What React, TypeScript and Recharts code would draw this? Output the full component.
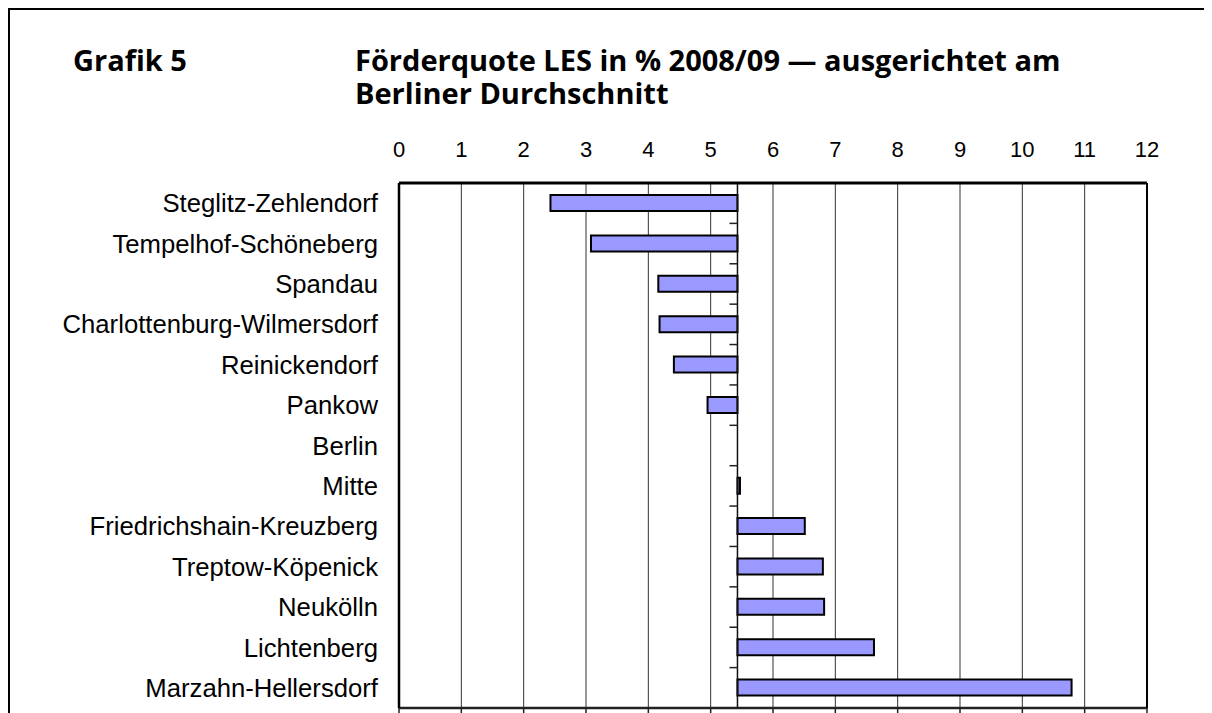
import React from "react";
import { Bar, BarChart, CartesianGrid, ReferenceLine, XAxis, YAxis } from "recharts";

const districts = [
  "Steglitz-Zehlendorf",
  "Tempelhof-Schöneberg",
  "Spandau",
  "Charlottenburg-Wilmersdorf",
  "Reinickendorf",
  "Pankow",
  "Berlin",
  "Mitte",
  "Friedrichshain-Kreuzberg",
  "Treptow-Köpenick",
  "Neukölln",
  "Lichtenberg",
  "Marzahn-Hellersdorf",
];
const quote = [2.43, 3.08, 4.16, 4.18, 4.41, 4.95, 5.43, 5.47, 6.51, 6.8, 6.82, 7.62, 10.79];
const berlinAvg = 5.43;
const xTicks = [0, 1, 2, 3, 4, 5, 6, 7, 8, 9, 10, 11, 12];

const data = districts.map((name, i) => ({
  name,
  range: [Math.min(quote[i], berlinAvg), Math.max(quote[i], berlinAvg)],
}));

const font = "'Liberation Sans', Arial, sans-serif";

// baseline at the Berlin average, with Excel-style ticks between categories
function BaseLine(props: any) {
  const { x1, y1, y2 } = props;
  const n = districts.length;
  const marks = [];
  for (let k = 1; k < n; k++) {
    const y = y1 + ((y2 - y1) * k) / n;
    marks.push(<line key={k} x1={x1 - 8} x2={x1} y1={y} y2={y} stroke="#222" strokeWidth={1.5} />);
  }
  return (
    <g>
      <line x1={x1} x2={x1} y1={y1} y2={y2} stroke="#111" strokeWidth={1.5} />
      {marks}
    </g>
  );
}

// frame from a diagonal segment between first and last band centres:
// bottom line with downward ticks at each gridline, plus right border
function Frame(props: any) {
  const { x1, y1, x2, y2 } = props;
  const n = districts.length;
  const half = (y2 - y1) / (2 * (n - 1));
  const top = y1 - half;
  const bottom = y2 + half;
  const m = xTicks.length - 1;
  return (
    <g>
      <line x1={x1} x2={x2} y1={bottom} y2={bottom} stroke="#222" strokeWidth={2.5} />
      <line x1={x2} x2={x2} y1={top} y2={bottom} stroke="#000" strokeWidth={2} />
      {xTicks.map((t, k) => (
        <line
          key={t}
          x1={x1 + ((x2 - x1) * k) / m}
          x2={x1 + ((x2 - x1) * k) / m}
          y1={bottom}
          y2={bottom + 8}
          stroke="#222"
          strokeWidth={1.5}
        />
      ))}
    </g>
  );
}

const titleStyle: React.CSSProperties = {
  position: "absolute",
  fontFamily: "'Open Sans', sans-serif",
  fontWeight: 700,
  fontSize: 29,
  lineHeight: 1,
  color: "#000",
  whiteSpace: "nowrap",
};

export default function App() {
  return (
    <div
      style={{
        position: "relative",
        width: 1204,
        height: 730,
        borderTop: "2px solid #000",
        borderLeft: "2px solid #000",
        boxSizing: "border-box",
        background: "#fff",
      }}
    >
      <style>{"html{overflow:hidden}"}</style>
      <div style={{ ...titleStyle, left: 63, top: 35 }}>Grafik 5</div>
      <div style={{ ...titleStyle, left: 345, top: 35 }}>Förderquote LES in % 2008/09 — ausgerichtet am</div>
      <div style={{ ...titleStyle, left: 345, top: 68 }}>Berliner Durchschnitt</div>
      <div style={{ position: "absolute", left: -2, top: -2 }}>
        <BarChart
          width={1204}
          height={730}
          data={data}
          layout="vertical"
          margin={{ top: 135, right: 65, bottom: 30, left: 0 }}
          barCategoryGap={0}
        >
          <CartesianGrid horizontal={false} vertical stroke="#333" strokeWidth={1} />
          <XAxis
            orientation="top"
            type="number"
            domain={[0, 12]}
            ticks={xTicks}
            interval={0}
            height={40}
            tickLine={false}
            tickSize={0}
            tickMargin={26}
            axisLine={{ stroke: "#000", strokeWidth: 3 }}
            tick={{ fill: "#000", fontSize: 22, fontFamily: font }}
          />
          <YAxis
            type="category"
            dataKey="name"
            width={391}
            interval={0}
            tickLine={false}
            tickSize={0}
            tickMargin={21}
            axisLine={{ stroke: "#000", strokeWidth: 2.5 }}
            tick={{ fill: "#000", fontSize: 25.7, fontFamily: font }}
          />
          <ReferenceLine
            segment={[
              { x: 0, y: districts[0] },
              { x: 12, y: districts[districts.length - 1] },
            ]}
            shape={Frame}
          />
          <ReferenceLine x={berlinAvg} shape={BaseLine} />
          <Bar
            dataKey="range"
            fill="#9999ff"
            stroke="#000"
            strokeWidth={2}
            barSize={16}
            isAnimationActive={false}
          />
        </BarChart>
      </div>
    </div>
  );
}
